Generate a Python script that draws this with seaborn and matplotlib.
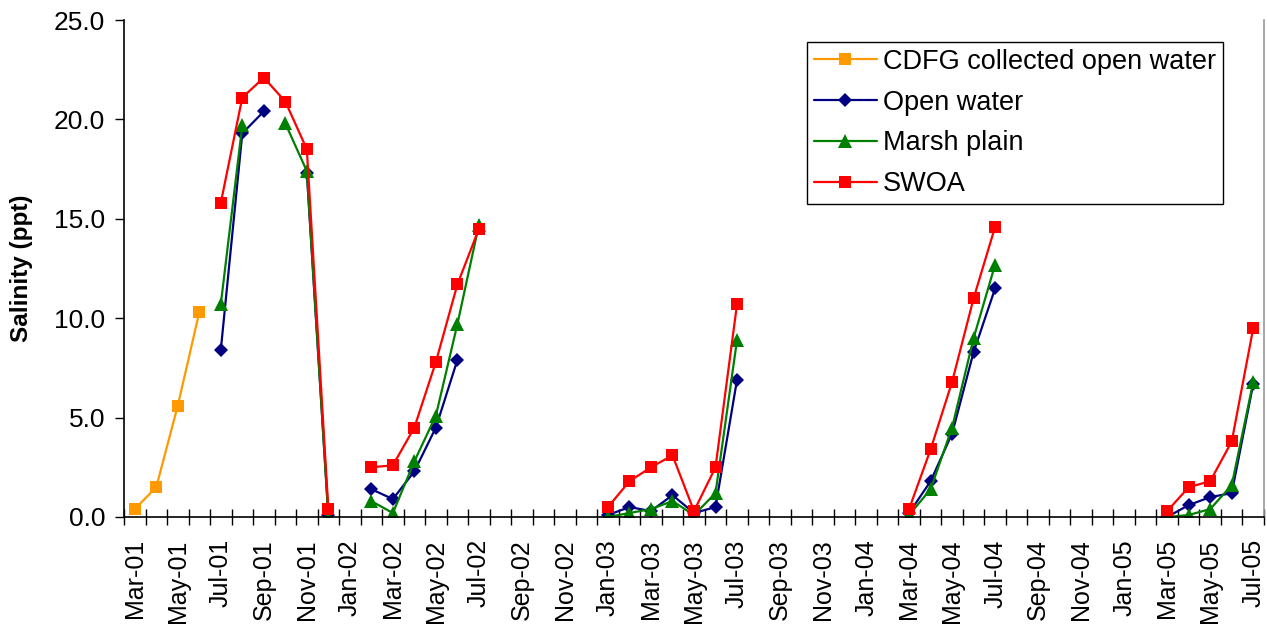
import numpy as np
import pandas as pd
import matplotlib
matplotlib.use("Agg")
import matplotlib.pyplot as plt
from matplotlib.lines import Line2D
from matplotlib.ticker import MultipleLocator, StrMethodFormatter
import seaborn as sns

# monthly category axis, Mar-01 .. Jul-05
axis_months = pd.period_range("2001-03", "2005-07", freq="M")

# CDFG samples (spring 2001)
cdfg_months = ["2001-03", "2001-04", "2001-05", "2001-06"]
cdfg_salinity = [0.4, 1.5, 5.6, 10.3]

# survey months for the three station types (None = no sample)
survey_months = [
    "2001-07", "2001-08", "2001-09", "2001-10", "2001-11", "2001-12",
    "2002-02", "2002-03", "2002-04", "2002-05", "2002-06", "2002-07",
    "2003-01", "2003-02", "2003-03", "2003-04", "2003-05", "2003-06", "2003-07",
    "2004-03", "2004-04", "2004-05", "2004-06", "2004-07",
    "2005-03", "2005-04", "2005-05", "2005-06", "2005-07",
]
open_water = [
    8.4, 19.3, 20.4, None, 17.3, 0.1,
    1.4, 0.9, 2.3, 4.5, 7.9, None,
    0.1, 0.5, 0.3, 1.1, 0.2, 0.5, 6.9,
    0.2, 1.8, 4.2, 8.3, 11.5,
    0.0, 0.6, 1.0, 1.2, 6.7,
]
marsh_plain = [
    10.7, 19.7, None, 19.8, 17.4, 0.0,
    0.8, 0.2, 2.8, 5.1, 9.7, 14.7,
    0.0, 0.2, 0.4, 0.8, 0.1, 1.2, 8.9,
    0.1, 1.4, 4.5, 9.0, 12.7,
    0.0, 0.1, 0.4, 1.6, 6.8,
]
swoa = [
    15.8, 21.1, 22.1, 20.9, 18.5, 0.4,
    2.5, 2.6, 4.5, 7.8, 11.7, 14.5,
    0.5, 1.8, 2.5, 3.1, 0.3, 2.5, 10.7,
    0.4, 3.4, 6.8, 11.0, 14.6,
    0.3, 1.5, 1.8, 3.8, 9.5,
]

series_names = ["CDFG collected open water", "Open water", "Marsh plain", "SWOA"]
series_colors = ["#FF9900", "#000080", "#008000", "#FF0000"]
series_markers = ["s", "D", "^", "s"]
marker_sizes = [8.5, 7.5, 10, 8.5]


def to_frame(name, months, values):
    """Long table for one series, with a segment id so gaps are not joined."""
    df = pd.DataFrame({"month": pd.PeriodIndex(months, freq="M"),
                       "salinity": pd.to_numeric(pd.Series(values, dtype="float"))})
    df["x"] = [m.ordinal - axis_months[0].ordinal for m in df["month"]]
    brk = df["salinity"].isna() | (df["x"].diff() != 1)
    df["seg"] = brk.cumsum()
    df["series"] = name
    return df.dropna(subset=["salinity"])


data = pd.concat([
    to_frame(series_names[0], cdfg_months, cdfg_salinity),
    to_frame(series_names[1], survey_months, open_water),
    to_frame(series_names[2], survey_months, marsh_plain),
    to_frame(series_names[3], survey_months, swoa),
], ignore_index=True)

sns.set_style("ticks")
plt.rcParams["font.family"] = ["Liberation Sans", "DejaVu Sans"]
plt.rcParams.update({"text.color": "black", "axes.labelcolor": "black",
                     "xtick.color": "black", "ytick.color": "black"})

fig = plt.figure(figsize=(12.67, 6.25), dpi=100)
ax = fig.add_axes([124 / 1267, 1 - 517 / 625, 1140 / 1267, 497 / 625])

for name, color, marker, ms in zip(series_names, series_colors, series_markers, marker_sizes):
    sub = data[data["series"] == name]
    sns.lineplot(data=sub, x="x", y="salinity", units="seg", estimator=None,
                 color=color, marker=marker, markersize=ms, markeredgewidth=0,
                 linewidth=1.6, legend=False, ax=ax)

# x axis: labels every second month, ticks on month boundaries
n = len(axis_months)
ax.set_xlim(-0.5, n - 0.5)
ax.set_xticks(range(0, n, 2))
ax.set_xticklabels([axis_months[i].strftime("%b-%y") for i in range(0, n, 2)])
ax.set_xticks(np.arange(-0.5, n, 1.0), minor=True)
ax.tick_params(axis="x", which="major", length=0, pad=16, labelrotation=90, labelsize=18)
ax.tick_params(axis="x", which="minor", length=11, width=1, direction="inout")

ax.set_ylim(0, 25)
ax.yaxis.set_major_locator(MultipleLocator(5))
ax.yaxis.set_major_formatter(StrMethodFormatter("{x:.1f}"))
ax.tick_params(axis="y", length=6.5, width=1, pad=7, labelsize=19)

ax.set_xlabel("")
ax.set_ylabel("Salinity (ppt)", fontsize=17.5, fontweight="bold", labelpad=15)

for side in ["left", "bottom"]:
    ax.spines[side].set_color("black")
    ax.spines[side].set_linewidth(1.2)
ax.spines["top"].set_visible(False)
ax.spines["right"].set_color("#999999")
ax.spines["right"].set_linewidth(1.2)

handles = [Line2D([], [], color=c, marker=m, markersize=ms, markeredgewidth=0, linewidth=1.6)
           for c, m, ms in zip(series_colors, series_markers, marker_sizes)]
leg = ax.legend(handles, series_names, loc="upper left", bbox_to_anchor=(0.599, 0.956),
                borderaxespad=0, frameon=True, fancybox=False, framealpha=1,
                edgecolor="black", fontsize=19.5, handlelength=2.35, handletextpad=0.2,
                borderpad=0.25, labelspacing=0.55)
leg.get_frame().set_linewidth(1.0)

fig.savefig("out.png", dpi=100)
